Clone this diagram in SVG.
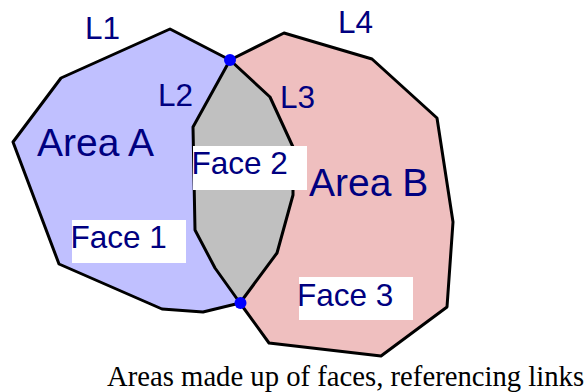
<svg xmlns="http://www.w3.org/2000/svg" width="587" height="392" viewBox="0 0 587 392">
<style>
.lnk{fill:none;stroke:#000;stroke-width:3;stroke-linejoin:round;stroke-linecap:round}
.lbl{font-family:"Liberation Sans",Arial,sans-serif;fill:#000080}
.sm{font-size:31.5px}
.big{font-size:39px}
.box{fill:#fff}
.node{fill:#0000ff}
.cap{font-family:"Liberation Serif","Times New Roman",serif;font-size:28.7px;fill:#000}
</style>
<rect width="587" height="392" fill="#fff"/>
<g id="face1"><polygon fill="#c0c0ff" points="230,60 170,29 61,78 13,142 59,264 162,309 203,312 240,303 215,268 195,230 193,127"/></g>
<g id="face3"><polygon fill="#efbfbf" points="230,60 284,33 372,59 437,118 453,222 447,307 381,356 269,343 240,303 277,253 293,195 293,147 270,97"/></g>
<g id="face2"><polygon fill="#c0c0c0" points="230,60 193,127 195,230 215,268 240,303 277,253 293,195 293,147 270,97"/></g>
<g id="links">
<polyline id="L1" class="lnk" points="230,60 170,29 61,78 13,142 59,264 162,309 203,312 240,303"/>
<polyline id="L2" class="lnk" points="230,60 193,127 195,230 215,268 240,303"/>
<polyline id="L3" class="lnk" points="230,60 270,97 293,147 293,195 277,253 240,303"/>
<polyline id="L4" class="lnk" points="230,60 284,33 372,59 437,118 453,222 447,307 381,356 269,343 240,303"/>
</g>
<g id="node-top"><circle class="node" cx="230" cy="60" r="6"/></g>
<g id="node-bottom"><circle class="node" cx="240.5" cy="303" r="6"/></g>
<g id="label-L1"><text class="lbl sm" x="85" y="39">L1</text></g>
<g id="label-L2"><text class="lbl sm" x="158" y="106">L2</text></g>
<g id="label-L3"><text class="lbl sm" x="280" y="108">L3</text></g>
<g id="label-L4"><text class="lbl sm" x="338" y="33">L4</text></g>
<g id="label-areaA"><text class="lbl big" x="37" y="156">Area A</text></g>
<g id="label-areaB"><text class="lbl big" x="309" y="196">Area B</text></g>
<g id="label-face2"><rect class="box" x="193" y="146" width="114" height="44"/><text class="lbl sm" x="191.5" y="174">Face 2</text></g>
<g id="label-face1"><rect class="box" x="72" y="220" width="114" height="43"/><text class="lbl sm" x="70.5" y="248">Face 1</text></g>
<g id="label-face3"><rect class="box" x="299" y="277" width="114" height="43"/><text class="lbl sm" x="297" y="306">Face 3</text></g>
<g id="caption"><text class="cap" x="107" y="386">Areas made up of faces, referencing links</text></g>
</svg>
